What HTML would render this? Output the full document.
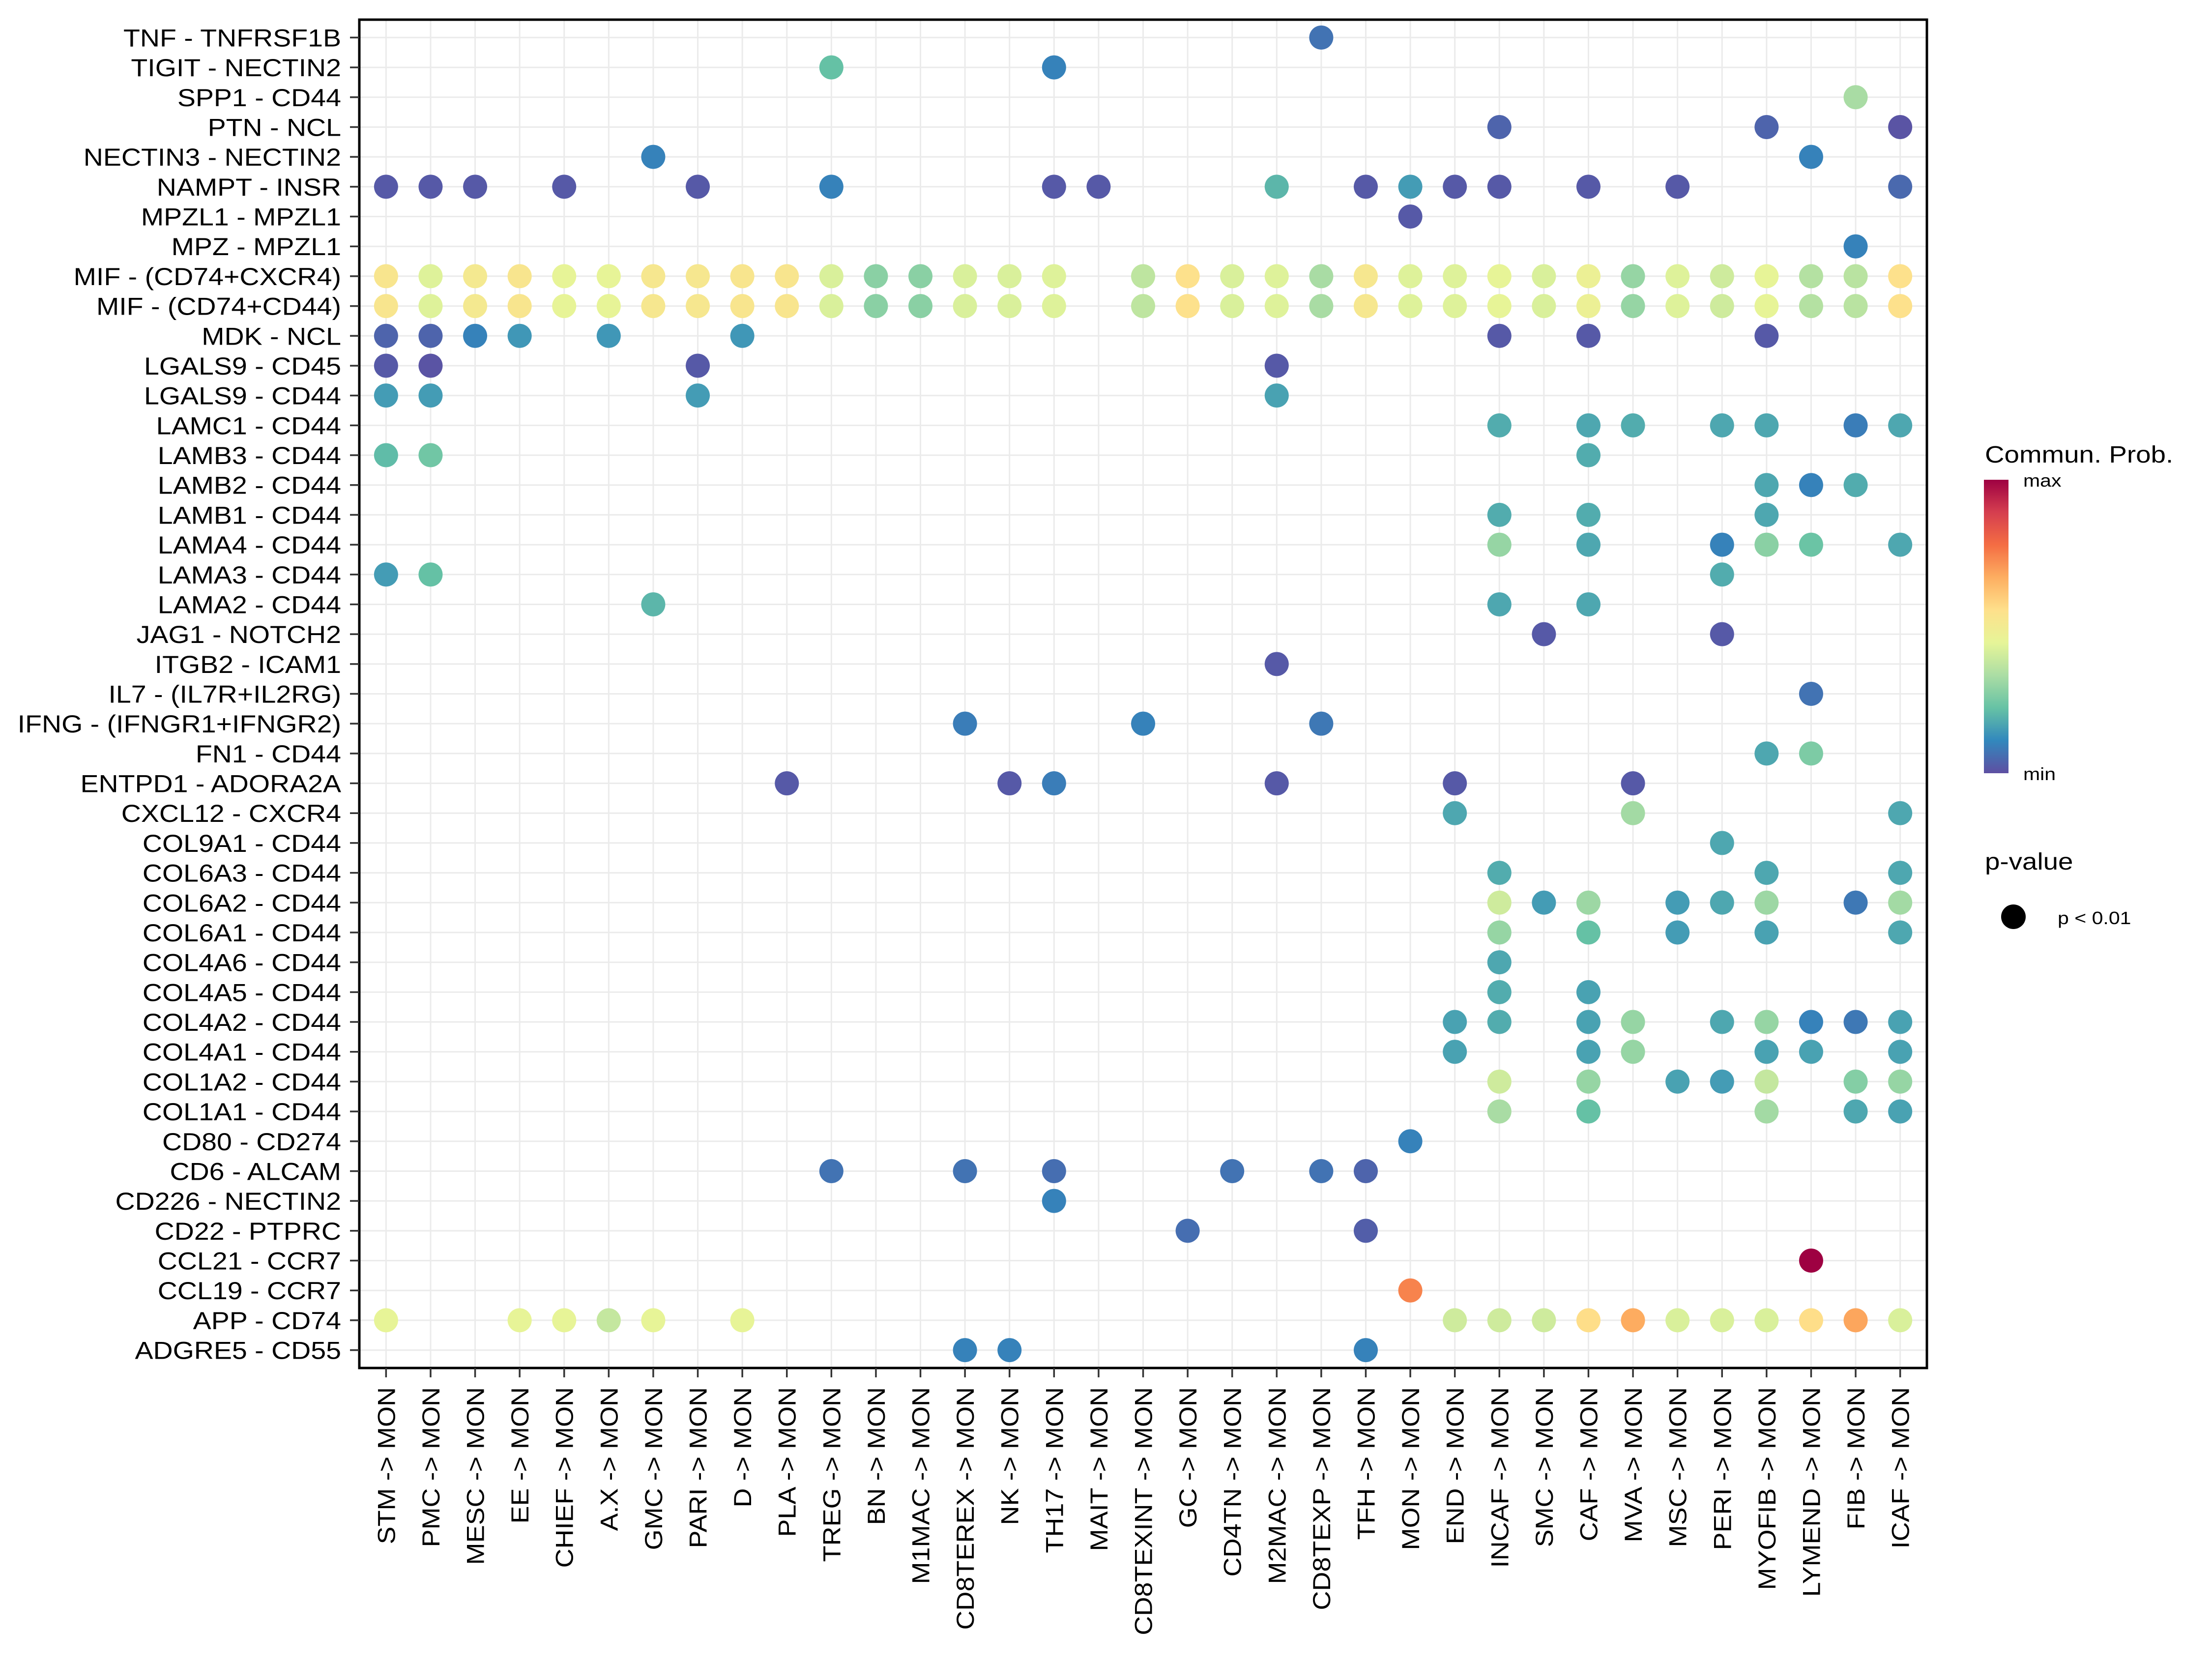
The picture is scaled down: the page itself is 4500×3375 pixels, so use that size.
<!DOCTYPE html>
<html><head><meta charset="utf-8"><style>
html,body{margin:0;padding:0;background:#fff;}
svg{display:block;font-family:"Liberation Sans",Arial,sans-serif;}
</style></head><body>
<svg id="chart" xmlns="http://www.w3.org/2000/svg" width="4500" height="3375" viewBox="0 0 4500 3375">
<defs>
<linearGradient id="cbar" x1="0" y1="1" x2="0" y2="0">
<stop offset="0" stop-color="#5E4FA2"/><stop offset="0.111" stop-color="#3288BD"/><stop offset="0.222" stop-color="#66C2A5"/><stop offset="0.333" stop-color="#ABDDA4"/><stop offset="0.444" stop-color="#E6F598"/><stop offset="0.556" stop-color="#FEE08B"/><stop offset="0.667" stop-color="#FDAE61"/><stop offset="0.778" stop-color="#F46D43"/><stop offset="0.889" stop-color="#D53E4F"/><stop offset="1" stop-color="#9E0142"/>
</linearGradient>
</defs>
<rect x="0" y="0" width="4500" height="3375" fill="#fff"/>
<g id="grid"></g>
<g id="dots"></g>
<rect x="731" y="40" width="3189" height="2743" fill="none" stroke="#000" stroke-width="5"/>
<g id="yaxis"></g>
<g id="xaxis"></g>
<g>
<text class="wide" x="4038" y="941" font-size="48">Commun. Prob.</text>
<rect x="4036" y="976" width="50" height="597" fill="url(#cbar)"/>
<text class="wide" x="4116" y="990" font-size="36">max</text>
<text class="wide" x="4116" y="1587" font-size="36">min</text>
</g>
<g>
<text class="wide" x="4038" y="1769" font-size="48">p-value</text>
<circle cx="4096" cy="1865" r="25" fill="#000"/>
<text class="wide" x="4186" y="1880" font-size="36">p &lt; 0.01</text>
</g>
</svg>
<script>
const rowLabels = ["TNF - TNFRSF1B","TIGIT - NECTIN2","SPP1 - CD44","PTN - NCL","NECTIN3 - NECTIN2","NAMPT - INSR","MPZL1 - MPZL1","MPZ - MPZL1","MIF - (CD74+CXCR4)","MIF - (CD74+CD44)","MDK - NCL","LGALS9 - CD45","LGALS9 - CD44","LAMC1 - CD44","LAMB3 - CD44","LAMB2 - CD44","LAMB1 - CD44","LAMA4 - CD44","LAMA3 - CD44","LAMA2 - CD44","JAG1 - NOTCH2","ITGB2 - ICAM1","IL7 - (IL7R+IL2RG)","IFNG - (IFNGR1+IFNGR2)","FN1 - CD44","ENTPD1 - ADORA2A","CXCL12 - CXCR4","COL9A1 - CD44","COL6A3 - CD44","COL6A2 - CD44","COL6A1 - CD44","COL4A6 - CD44","COL4A5 - CD44","COL4A2 - CD44","COL4A1 - CD44","COL1A2 - CD44","COL1A1 - CD44","CD80 - CD274","CD6 - ALCAM","CD226 - NECTIN2","CD22 - PTPRC","CCL21 - CCR7","CCL19 - CCR7","APP - CD74","ADGRE5 - CD55"];
const colLabels = ["STM -> MON","PMC -> MON","MESC -> MON","EE -> MON","CHIEF -> MON","A.X -> MON","GMC -> MON","PARI -> MON","D -> MON","PLA -> MON","TREG -> MON","BN -> MON","M1MAC -> MON","CD8TEREX -> MON","NK -> MON","TH17 -> MON","MAIT -> MON","CD8TEXINT -> MON","GC -> MON","CD4TN -> MON","M2MAC -> MON","CD8TEXP -> MON","TFH -> MON","MON -> MON","END -> MON","INCAF -> MON","SMC -> MON","CAF -> MON","MVA -> MON","MSC -> MON","PERI -> MON","MYOFIB -> MON","LYMEND -> MON","FIB -> MON","ICAF -> MON"];
// each row: [column index, communication probability (0=min,1=max)]
const mifCxcr4 = [[0,0.53],[1,0.43],[2,0.51],[3,0.53],[4,0.45],[5,0.45],[6,0.52],[7,0.52],[8,0.53],[9,0.53],[10,0.42],[11,0.28],[12,0.28],[13,0.42],[14,0.42],[15,0.43],[17,0.37],[18,0.55],[19,0.42],[20,0.43],[21,0.33],[22,0.52],[23,0.43],[24,0.43],[25,0.45],[26,0.42],[27,0.47],[28,0.3],[29,0.43],[30,0.4],[31,0.45],[32,0.35],[33,0.36],[34,0.55]];
const mifCd44 = [[0,0.53],[1,0.43],[2,0.51],[3,0.53],[4,0.45],[5,0.45],[6,0.52],[7,0.52],[8,0.53],[9,0.53],[10,0.42],[11,0.28],[12,0.28],[13,0.42],[14,0.42],[15,0.43],[17,0.37],[18,0.55],[19,0.42],[20,0.43],[21,0.33],[22,0.52],[23,0.43],[24,0.43],[25,0.45],[26,0.42],[27,0.47],[28,0.3],[29,0.43],[30,0.4],[31,0.45],[32,0.35],[33,0.36],[34,0.55]];
const rowDots = [
 [[21,0.07]],
 [[10,0.22],[15,0.1]],
 [[33,0.33]],
 [[25,0.04],[31,0.04],[34,0.01]],
 [[6,0.1],[32,0.1]],
 [[0,0.02],[1,0.02],[2,0.02],[4,0.02],[7,0.02],[10,0.1],[15,0.02],[16,0.02],[20,0.2],[22,0.02],[23,0.15],[24,0.02],[25,0.02],[27,0.02],[29,0.02],[34,0.05]],
 [[23,0.02]],
 [[33,0.1]],
 mifCxcr4,
 mifCd44,
 [[0,0.04],[1,0.04],[2,0.1],[3,0.14],[5,0.14],[8,0.14],[25,0.02],[27,0.02],[31,0.02]],
 [[0,0.02],[1,0.01],[7,0.02],[20,0.02]],
 [[0,0.15],[1,0.15],[7,0.15],[20,0.16]],
 [[25,0.18],[27,0.17],[28,0.18],[30,0.17],[31,0.17],[33,0.09],[34,0.17]],
 [[0,0.21],[1,0.24],[27,0.18]],
 [[31,0.17],[32,0.1],[33,0.18]],
 [[25,0.18],[27,0.18],[31,0.17]],
 [[25,0.3],[27,0.17],[30,0.1],[31,0.28],[32,0.23],[34,0.17]],
 [[0,0.15],[1,0.22],[30,0.18]],
 [[6,0.2],[25,0.17],[27,0.17]],
 [[26,0.02],[30,0.02]],
 [[20,0.02]],
 [[32,0.07]],
 [[13,0.09],[17,0.1],[21,0.08]],
 [[31,0.17],[32,0.26]],
 [[9,0.02],[14,0.02],[15,0.09],[20,0.02],[24,0.02],[28,0.02]],
 [[24,0.17],[28,0.32],[34,0.17]],
 [[30,0.17]],
 [[25,0.18],[31,0.17],[34,0.17]],
 [[25,0.4],[26,0.15],[27,0.31],[29,0.15],[30,0.17],[31,0.31],[33,0.08],[34,0.32]],
 [[25,0.3],[27,0.22],[29,0.15],[31,0.16],[34,0.17]],
 [[25,0.17]],
 [[25,0.18],[27,0.16]],
 [[24,0.16],[25,0.18],[27,0.16],[28,0.3],[30,0.17],[31,0.3],[32,0.1],[33,0.08],[34,0.16]],
 [[24,0.16],[27,0.16],[28,0.3],[31,0.16],[32,0.16],[34,0.16]],
 [[25,0.4],[27,0.3],[29,0.16],[30,0.15],[31,0.38],[33,0.27],[34,0.3]],
 [[25,0.33],[27,0.22],[31,0.32],[33,0.17],[34,0.16]],
 [[23,0.1]],
 [[10,0.07],[13,0.07],[15,0.06],[19,0.07],[21,0.07],[22,0.04]],
 [[15,0.1]],
 [[18,0.06],[22,0.03]],
 [[32,1.0]],
 [[23,0.74]],
 [[0,0.45],[3,0.45],[4,0.45],[5,0.38],[6,0.45],[8,0.45],[24,0.4],[25,0.4],[26,0.4],[27,0.56],[28,0.67],[29,0.42],[30,0.42],[31,0.42],[32,0.56],[33,0.68],[34,0.42]],
 [[13,0.1],[14,0.1],[22,0.1]]
];
const NS = "http://www.w3.org/2000/svg";
const PL = 731, PR = 3920, PT = 40, PB = 2783;
const colStep = (PR - PL) / (colLabels.length - 1 + 1.2);
const rowStep = (PB - PT) / (rowLabels.length - 1 + 1.2);
function xScale(i){ return PL + colStep * (0.6 + i); }
function yScale(i){ return PT + rowStep * (0.6 + i); }
const stops = ["#5E4FA2","#3288BD","#66C2A5","#ABDDA4","#E6F598","#FEE08B","#FDAE61","#F46D43","#D53E4F","#9E0142"];
function hex(h){ return [parseInt(h.substr(1,2),16),parseInt(h.substr(3,2),16),parseInt(h.substr(5,2),16)]; }
function colorScale(v){
  v = Math.max(0, Math.min(1, v));
  const p = v * (stops.length - 1);
  const i = Math.min(Math.floor(p), stops.length - 2);
  const t = p - i;
  const a = hex(stops[i]), b = hex(stops[i+1]);
  return "rgb(" + a.map((c,k)=>Math.round(c + (b[k]-c)*t)).join(",") + ")";
}
function mk(tag, attrs){ const e = document.createElementNS(NS, tag); for (const k in attrs) e.setAttribute(k, attrs[k]); return e; }
function widen(t, f){ const w = t.getComputedTextLength(); if (w > 0){ t.setAttribute("textLength", (w*f).toFixed(1)); t.setAttribute("lengthAdjust","spacingAndGlyphs"); } }
const grid = document.getElementById("grid");
colLabels.forEach((c,i)=>{
  const l = mk("line",{x1:xScale(i),x2:xScale(i),y1:PT,y2:PB,stroke:"#EBEBEB","stroke-width":3});
  
  
  grid.appendChild(l);
});
rowLabels.forEach((r,i)=>{
  const l = mk("line",{x1:PL,x2:PR,y1:yScale(i),y2:yScale(i),stroke:"#EBEBEB","stroke-width":3});
  
  
  grid.appendChild(l);
});
const dots = document.getElementById("dots");
rowDots.forEach((row, ri)=>{
  row.forEach(([ci, v])=>{
    const c = mk("circle",{cx:xScale(ci),cy:yScale(ri),r:24.5,fill:colorScale(v)});
    
    
    dots.appendChild(c);
  });
});
const yaxis = document.getElementById("yaxis");
rowLabels.forEach((r,i)=>{
  const t = mk("line",{x1:PL-19,x2:PL,y1:yScale(i),y2:yScale(i),stroke:"#333","stroke-width":3.5});
  
  
  yaxis.appendChild(t);
  const tx = mk("text",{x:694,y:yScale(i)+18,"font-size":50,"text-anchor":"end",fill:"#000"});
  tx.textContent = r;
  
  
  yaxis.appendChild(tx);
  widen(tx, 1.11);
});
const xaxis = document.getElementById("xaxis");
colLabels.forEach((c,i)=>{
  const t = mk("line",{x1:xScale(i),x2:xScale(i),y1:PB,y2:PB+19,stroke:"#333","stroke-width":3.5});
  
  
  xaxis.appendChild(t);
  const x = xScale(i)+18, y = 2822;
  const tx = mk("text",{x:x,y:y,"font-size":50,"text-anchor":"end",fill:"#000",transform:"rotate(-90 "+x+" "+y+")"});
  tx.textContent = c;
  
  
  xaxis.appendChild(tx);
  widen(tx, 1.08);
});
document.querySelectorAll("text.wide").forEach(t=>widen(t, 1.14));
</script>
</body></html>
